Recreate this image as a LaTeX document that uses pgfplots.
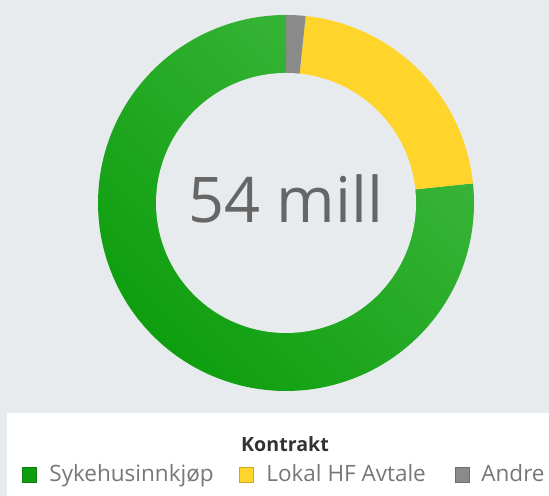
\documentclass[border=0pt]{standalone}
\usepackage{pgfplots}
\pgfplotsset{compat=1.18}
\usepackage{pgfplotstable}
\usepackage{fontspec}
\setmainfont{Open Sans}
\definecolor{bg}{HTML}{E8EBEE}
\definecolor{gLight}{HTML}{3DB73D}
\definecolor{gDark}{HTML}{0E9E0E}
\definecolor{yel}{HTML}{FFD52B}
\definecolor{gry}{HTML}{8A8A8A}
\definecolor{ctxt}{HTML}{666666}
\definecolor{ltxt}{HTML}{777777}
\definecolor{ttxt}{HTML}{333333}
\pgfplotstableread{
label value
Andre 0.9
Lokal 11.7
Sykehusinnkjop 41.4
}\slices
\begin{document}
\begin{tikzpicture}[x=0.5bp,y=0.5bp]
\useasboundingbox (0,0) rectangle (549,496);
\fill[bg] (0,0) rectangle (549,496);
\fill[white] (7,0) rectangle (549,83);
\pgfplotstablegetelem{0}{value}\of\slices \pgfmathsetmacro\va{\pgfplotsretval}
\pgfplotstablegetelem{1}{value}\of\slices \pgfmathsetmacro\vb{\pgfplotsretval}
\pgfplotstablegetelem{2}{value}\of\slices \pgfmathsetmacro\vc{\pgfplotsretval}
\pgfmathsetmacro\tot{\va+\vb+\vc}
\pgfmathsetmacro\aA{90}
\pgfmathsetmacro\aB{90-360*\va/\tot}
\pgfmathsetmacro\aC{\aB-360*\vb/\tot}
\pgfmathsetmacro\aD{\aC-360*\vc/\tot}
\begin{axis}[at={(286,293)}, anchor=center, scale only axis,
  width=189bp, height=189bp, xmin=-189, xmax=189, ymin=-189, ymax=189,
  hide axis, clip=false]
\addplot[draw=none, top color=gLight, bottom color=gDark, shading angle=-45,
  domain=\aD:\aC, samples=180] ({188*cos(x)},{188*sin(x)}) -- (axis cs:0,0) -- cycle;
\addplot[draw=none, fill=yel, domain=\aC:\aB, samples=60]
  ({188*cos(x)},{188*sin(x)}) -- (axis cs:0,0) -- cycle;
\addplot[draw=none, fill=gry, domain=\aB:\aA, samples=10]
  ({188*cos(x)},{188*sin(x)}) -- (axis cs:0,0) -- cycle;
\addplot[draw=none, fill=bg, domain=0:360, samples=181]
  ({130*cos(x)},{130*sin(x)}) -- cycle;
\end{axis}
\node[anchor=base, text=ctxt, font=\fontsize{31.5bp}{36bp}\selectfont] at (286,273) {54 mill};
\node[anchor=base, text=ttxt, font=\fontsize{9.8bp}{12bp}\selectfont\bfseries] at (285,44) {Kontrakt};
\fill[gDark] (22,14) rectangle (36,29);
\draw[gDark!80!black, line width=0.3bp] (22,14) rectangle (36,29);
\node[anchor=base west, inner sep=0pt, text=ltxt, font=\fontsize{11.25bp}{13bp}\selectfont] at (49,14) {Sykehusinnkjøp};
\fill[yel] (239,14) rectangle (253,29);
\draw[yel!80!black, line width=0.3bp] (239,14) rectangle (253,29);
\node[anchor=base west, inner sep=0pt, text=ltxt, font=\fontsize{11.25bp}{13bp}\selectfont] at (266,14) {Lokal HF Avtale};
\fill[gry] (455,14) rectangle (469,29);
\draw[gry!80!black, line width=0.3bp] (455,14) rectangle (469,29);
\node[anchor=base west, inner sep=0pt, text=ltxt, font=\fontsize{11.25bp}{13bp}\selectfont] at (481,14) {Andre};
\end{tikzpicture}
\end{document}
